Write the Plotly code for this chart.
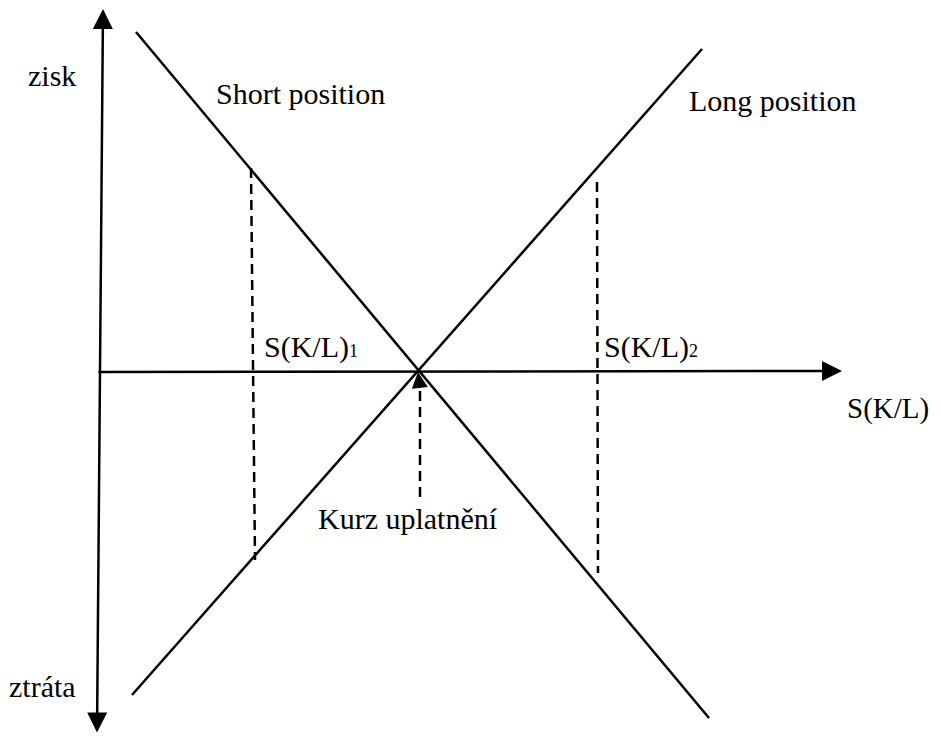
import plotly.graph_objects as go

# payoff lines (x = spot rate S(K/L), y = profit), diagram units
short_x = [36, 609]
short_y = [339, -347]
long_x = [32, 602]
long_y = [-324, 322]

# dashed guides at S(K/L)1, S(K/L)2 and the strike
s1_x = [151, 155]
s1_y = [203, -189]
s2_x = [497, 498]
s2_y = [189, -202]
strike_x = [320, 320]
strike_y = [-126, -14]

# axis end points
vaxis_top = (3, 362)
vaxis_bottom = (-3, -363)
haxis_start = (-3, -1)
haxis_end = (742, 0)
strike_point = (318, -1)

FONT = "'Liberation Serif', 'Times New Roman', serif"
dash = "10px,6px"

fig = go.Figure()

fig.add_trace(go.Scatter(x=short_x, y=short_y, mode="lines",
                         line=dict(color="black", width=2.5)))
fig.add_trace(go.Scatter(x=long_x, y=long_y, mode="lines",
                         line=dict(color="black", width=2.5)))
for xs, ys in [(s1_x, s1_y), (s2_x, s2_y), (strike_x, strike_y)]:
    fig.add_trace(go.Scatter(x=xs, y=ys, mode="lines",
                             line=dict(color="black", width=2.5, dash=dash)))

arrows = [
    dict(x=vaxis_top[0], y=vaxis_top[1], ax=vaxis_bottom[0], ay=vaxis_bottom[1],
         arrowside="end+start", arrowwidth=2.5, arrowsize=1.6),
    dict(x=haxis_end[0], y=haxis_end[1], ax=haxis_start[0], ay=haxis_start[1],
         arrowside="end", arrowwidth=2.5, arrowsize=1.6),
    dict(x=strike_point[0], y=strike_point[1], ax=strike_x[1], ay=strike_y[1] - 4,
         arrowside="end", arrowwidth=2, arrowsize=1.6),
]
for a in arrows:
    fig.add_annotation(text="", showarrow=True, axref="x", ayref="y",
                       xref="x", yref="y", arrowhead=2, arrowcolor="black",
                       standoff=0, startstandoff=0, **a)

sub = "<span style='font-size:18px'>{}</span>"
labels = [
    ("zisk", -48, 296, "center", 30),
    ("Short position", 114, 278, "left", 30),
    ("Long position", 587, 271, "left", 30),
    ("S(K/L)" + sub.format("1"), 162, 24, "left", 30),
    ("S(K/L)" + sub.format("2"), 502, 24, "left", 30),
    ("S(K/L)", 745, -37, "left", 29),
    ("Kurz uplatnění", 308, -147, "center", 30),
    ("ztráta", -58, -315, "center", 30),
]
for text, x, y, anchor, size in labels:
    fig.add_annotation(text=text, x=x, y=y, xref="x", yref="y", showarrow=False,
                       xanchor=anchor, yanchor="middle",
                       font=dict(family=FONT, size=size, color="black"))

# page body has an 8px margin: figure shrunk and ranges shifted to match
fig.update_xaxes(range=[-92, 840], visible=False, fixedrange=True)
fig.update_yaxes(range=[-366, 363], visible=False, fixedrange=True)
fig.update_layout(
    width=932, height=729,
    margin=dict(l=0, r=0, t=0, b=0),
    paper_bgcolor="white", plot_bgcolor="white",
    showlegend=False,
)

fig.write_html("out.html")
